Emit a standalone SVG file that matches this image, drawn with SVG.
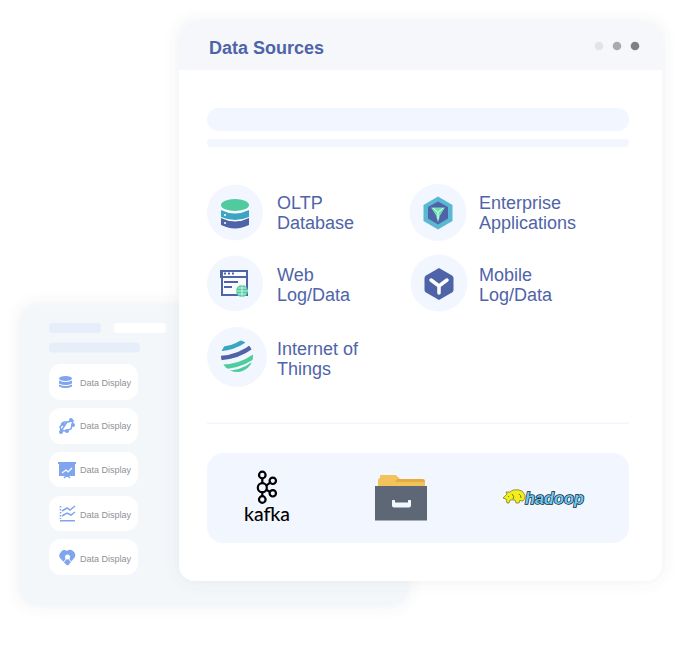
<svg xmlns="http://www.w3.org/2000/svg" width="687" height="645" viewBox="0 0 687 645">
<style>
.lbl{font-family:"Liberation Sans",Arial,sans-serif;font-size:18px;fill:#4f64a8}
.ttl{font-family:"Liberation Sans",Arial,sans-serif;font-size:18px;font-weight:700;fill:#4f64a8}
.dd{font-family:"Liberation Sans",Arial,sans-serif;font-size:9px;fill:#8f9298}
.row{fill:#fff}
.halo{fill:#f2f6fe}
.ph{fill:#e6eefa}
.ic{fill:#7ea5ee}
.ics{fill:none;stroke:#7ea5ee;stroke-width:1.5}
.k{fill:none;stroke:#000;stroke-width:2.200}
</style>
<defs>
<filter id="sh" x="-10%" y="-10%" width="120%" height="120%"><feDropShadow dx="0" dy="0" stdDeviation="7" flood-color="#5a6478" flood-opacity="0.11"/></filter>
<clipPath id="hdr"><rect x="179" y="22" width="483" height="48"/></clipPath>
<clipPath id="globe"><circle cx="237" cy="356" r="16"/></clipPath>
</defs>
<rect width="687" height="645" fill="#fff"/>

<g id="back-card">
<rect x="20" y="305" width="388" height="300" rx="16" fill="#f4f7fa" filter="url(#sh)"/>
<rect x="49" y="323" width="52" height="10" rx="4" class="ph"/>
<rect x="114" y="323" width="52" height="10" rx="4" fill="#fff"/>
<rect x="49" y="342.500" width="91" height="10" rx="4" class="ph"/>
</g>
<g id="row-1">
<rect class="row" x="49" y="364" width="89" height="36" rx="12"/>
<ellipse class="ic" cx="65.500" cy="378.500" rx="6.500" ry="2.500"/>
<path class="ic" d="M59 380.500q6.500 3 13 0v3q-6.500 3-13 0zM59 384.500q6.500 3 13 0v2q-6.500 3-13 0z"/>
<text class="dd" x="80" y="386">Data Display</text>
</g>
<g id="row-2">
<rect class="row" x="49" y="408" width="89" height="36" rx="12"/>
<path class="ics" d="M61 431l6-9 6-1-2 8-6 2-4-1-1-3 4-5 3 0" stroke-width="1.200"/>
<circle class="ic" cx="61" cy="432" r="2"/><circle class="ic" cx="67" cy="431" r="2"/><circle class="ic" cx="71" cy="420" r="2"/><circle class="ic" cx="73" cy="425" r="2"/><circle class="ic" cx="63" cy="424" r="2"/>
<text class="dd" x="80" y="429">Data Display</text>
</g>
<g id="row-3">
<rect class="row" x="49" y="452" width="89" height="35" rx="12"/>
<path class="ic" d="M58 462h18v2h-1v12h-16v-12h-1z"/>
<path d="M62 473l4-3 2 2 4-4" fill="none" stroke="#fff" stroke-width="1.200"/>
<path class="ics" d="M67 476v1M64 478l2-2M70 478l-2-2" stroke-width="1"/>
<text class="dd" x="80" y="473">Data Display</text>
</g>
<g id="row-4">
<rect class="row" x="49" y="496" width="89" height="35" rx="12"/>
<path class="ics" d="M60.500 506v13" stroke-dasharray="1.500 1.500"/>
<path class="ics" d="M62 511l5-3 3 2 5-4M62 516l5-3 4 2 4-3" stroke-width="1"/>
<rect class="ic" x="60" y="520" width="15" height="1.500"/>
<text class="dd" x="80" y="518">Data Display</text>
</g>
<g id="row-5">
<rect class="row" x="49" y="539" width="89" height="36" rx="12"/>
<path class="ic" d="M61 552a4 4 0 0 1 6-1a4 4 0 0 1 6 0q3 2 2 6l-6.500 8q-1 .5-2 0l-6.500-7q-2-3 1-6z"/>
<circle cx="67.500" cy="557" r="2.500" fill="#fff"/>
<path d="M63 563l3-4M72 563l-3-4" stroke="#fff" stroke-width="1"/>
<text class="dd" x="80" y="562">Data Display</text>
</g>

<g id="main-card">
<rect x="179" y="22" width="483" height="559" rx="16" fill="#fff" filter="url(#sh)"/>
<rect x="179" y="22" width="483" height="70" rx="16" fill="#f5f7fa" clip-path="url(#hdr)"/>
<text class="ttl" x="209" y="54">Data Sources</text>
<circle cx="599" cy="46" r="4.300" fill="#e4e4e4"/>
<circle cx="617" cy="46" r="4.300" fill="#aaaaaa"/>
<circle cx="635" cy="46" r="4.300" fill="#808080"/>
<rect x="207" y="108" width="422" height="23" rx="11.500" fill="#f2f6fe"/>
<rect x="207" y="139" width="422" height="8" rx="4" fill="#f2f6fe"/>
<rect x="207" y="422.500" width="422" height="1.500" fill="#f2f6fe"/>
</g>

<g id="oltp">
<circle class="halo" cx="235" cy="212.500" r="28"/>
<path d="M221 217h28v7.500q-14 8-28 0z" fill="#4f64a8"/>
<path d="M221 209h28v9q-14 7-28 0z" fill="#fff"/>
<path d="M221 210q14 7 28 0v7q-14 6-28 0z" fill="#3aa6c4"/>
<path d="M221 219q14 6 28 0v6q-14 6-28 0z" fill="#4f64a8"/>
<ellipse cx="235" cy="205" rx="14" ry="6" fill="#4fcb9e"/>
<circle cx="225" cy="215" r="1" fill="#fff"/><circle cx="225" cy="223" r="1" fill="#fff"/>
<text class="lbl"><tspan x="277" y="209">OLTP</tspan><tspan x="277" y="229">Database</tspan></text>
</g>
<g id="web">
<circle class="halo" cx="235" cy="283.500" r="28"/>
<path d="M222 271h25v24h-25z" fill="#fff" fill-opacity=".5" stroke="#4f64a8" stroke-width="2"/>
<path d="M221 271h26v6h-26z" fill="none" stroke="#4f64a8" stroke-width="2"/>
<path d="M224 273.500h2M228 273.500h2M232 273.500h2" stroke="#4f64a8" stroke-width="2"/>
<path d="M224 282h14M224 287h8" stroke="#4f64a8" stroke-width="2"/>
<circle cx="242" cy="291" r="6" fill="#4fcb9e"/>
<path d="M236 291h12M242 285v12M238 288h8M238 294h8" stroke="#fff" stroke-width=".7"/>
<text class="lbl"><tspan x="277" y="281">Web</tspan><tspan x="277" y="301">Log/Data</tspan></text>
</g>
<g id="iot">
<circle class="halo" cx="237" cy="357" r="30"/>
<g clip-path="url(#globe)" fill="none" stroke-width="4.500">
<path d="M218 349q14 0 26-8" stroke="#3aa6c4"/>
<path d="M218 358q20 0 36-13" stroke="#4f64a8"/>
<path d="M220 367q20 0 36-12" stroke="#4fcb9e"/>
<path d="M225 373q16 0 28-9" stroke="#4fcb9e"/>
</g>
<text class="lbl"><tspan x="277" y="355">Internet of</tspan><tspan x="277" y="375">Things</tspan></text>
</g>
<g id="enterprise">
<circle class="halo" cx="438" cy="212.500" r="28.500"/>
<path d="M438 196.500l14.500 8.500v16l-14.500 8.500-14.500-8.500v-16z" fill="#5ab8d3"/>
<path d="M438 201.500l10 5.500v11.500l-10 6-10-6v-11.500z" fill="#4f64a8"/>
<path d="M431 207.500h14l-5 8-2 7-2-7z" fill="#6fe0b0"/>
<path d="M433 208l5 4.500 5-4.500M438 212.500v7" fill="none" stroke="#e6fff4" stroke-width="1"/>
<text class="lbl"><tspan x="479" y="209">Enterprise</tspan><tspan x="479" y="229">Applications</tspan></text>
</g>
<g id="mobile">
<circle class="halo" cx="439" cy="283" r="28.500"/>
<path d="M439 268l13 7.500q1.500 1 1.500 2.500v12q0 1.500-1.500 2.500l-13 7.500-13-7.500q-1.500-1-1.500-2.500v-12q0-1.500 1.500-2.500z" fill="#4f64a8"/>
<path d="M431 280l8 6 8-6M439 286v7" fill="none" stroke="#fff" stroke-width="3.500" stroke-linecap="round"/>
<text class="lbl"><tspan x="479" y="281">Mobile</tspan><tspan x="479" y="301">Log/Data</tspan></text>
</g>

<g id="logos">
<rect x="207" y="453" width="422" height="90" rx="16" fill="#f2f6fe"/>
<g id="kafka">
<circle class="k" cx="262.300" cy="475" r="3.300"/>
<circle class="k" cx="272.800" cy="480.800" r="3.200"/>
<circle class="k" cx="262.300" cy="487.700" r="4.500"/>
<circle class="k" cx="272.800" cy="493.300" r="3.200"/>
<circle class="k" cx="262.300" cy="499.500" r="3.300"/>
<path class="k" d="M262.300 478.300v5M262.300 492.200v4M266.300 485.700l3.800-3M266.300 489.700l3.800 2.300"/>
<text x="244" y="520.500" font-family="Lato,Inter,'Liberation Sans',sans-serif" font-size="19" font-weight="500" fill="#000" textLength="46" lengthAdjust="spacingAndGlyphs">kafka</text>
</g>
<g id="folder">
<path d="M378 486v-6q0-1.500 2-2v-2q0-1 1-1h14q1 0 2 1l3 3h23q2 0 2 2v5z" fill="#f3c35b"/>
<path d="M397 479h25q2 0 3 2v1h-30z" fill="#e5ad40"/>
<rect x="375" y="486" width="52" height="34.500" fill="#5e6776"/>
<path d="M392 500.500q0-.5 .5-.5h2q.5 0 .5 .5v2h13v-2q0-.5 .5-.5h2q.5 0 .5 .5v5q0 2-2 2h-15q-2 0-2-2z" fill="#f2f6fe"/>
</g>
<g id="hadoop">
<path d="M505 496l2-2-1-2 4 0 3-2q6-1 9 1l3 4v3l-2 3-2 0-1-1-1 3-3 0-1-3-5 0-1 3-2 0-1-4-3-1z" fill="#f0ee1f" stroke="#5d5a00" stroke-width=".6"/>
<path d="M512 494q3 3 1 5M519 494q2 1 2 4M508 497l1-1" fill="none" stroke="#5d5a00" stroke-width=".8"/>
<text x="525" y="503.500" font-family="'Liberation Sans',Arial,sans-serif" font-size="16.500" font-weight="700" font-style="italic" fill="#6cc7f2" stroke="#0c1c2c" stroke-width="1.400" paint-order="stroke" textLength="59" lengthAdjust="spacingAndGlyphs">hadoop</text>
</g>
</g>
</svg>
